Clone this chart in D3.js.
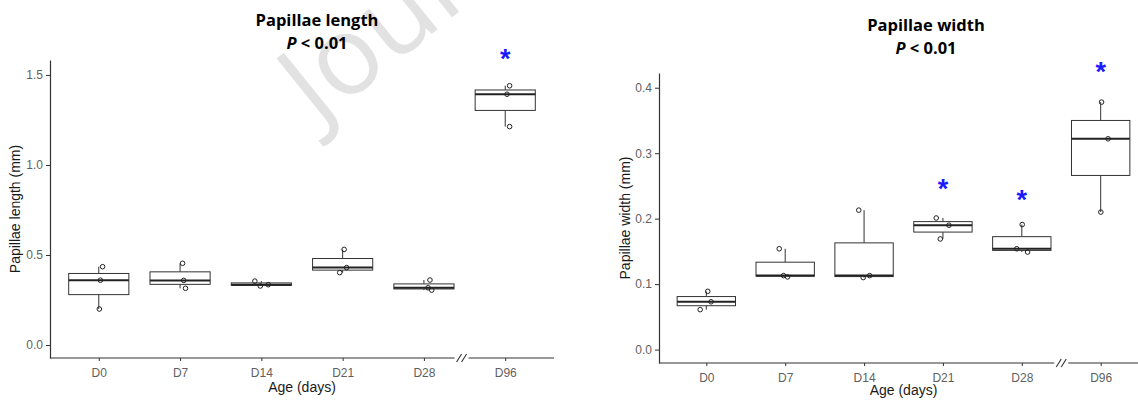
<!DOCTYPE html>
<html>
<head>
<meta charset="utf-8">
<script src="https://cdn.jsdelivr.net/npm/d3@7"></script>
<style>
  body { margin: 0; background: #fff; }
  svg { display: block; }
</style>
</head>
<body>
<div id="chart"></div>
<script>
// Age groups on the x axis
var categories = ["D0", "D7", "D14", "D21", "D28", "D96"];

// Papillae length (mm), three animals per age
var lengthPoints = [
    [0.435, 0.36, 0.2],
    [0.454, 0.359, 0.315],
    [0.355, 0.328, 0.335],
    [0.531, 0.43, 0.402],
    [0.361, 0.318, 0.305],
    [1.44, 1.393, 1.213]
];
// horizontal jitter of each point, as a share of the category step
var lengthJitter = [
    [0.047, 0.02, 0.007],
    [0.031, 0.045, 0.067],
    [-0.08, -0.013, 0.085],
    [0.018, 0.049, -0.036],
    [0.074, 0.051, 0.096],
    [0.054, 0.022, 0.054]
];
var lengthStars = [null, null, null, null, null, 1.628];
var lengthTicks = [0, 0.5, 1.0, 1.5];

// Papillae width (mm)
var widthPoints = [
    [0.089, 0.073, 0.061],
    [0.154, 0.113, 0.111],
    [0.213, 0.113, 0.11],
    [0.201, 0.19, 0.169],
    [0.191, 0.154, 0.149],
    [0.378, 0.322, 0.21]
];
var widthJitter = [
    [0.018, 0.06, -0.078],
    [-0.076, -0.021, 0.03],
    [-0.067, 0.071, -0.011],
    [-0.085, 0.076, -0.034],
    [0.005, -0.064, 0.073],
    [0.011, 0.094, 0.002]
];
var widthStars = [null, null, null, 0.256, 0.239, 0.435];
var widthTicks = [0, 0.1, 0.2, 0.3, 0.4];

var width = 1138,
    height = 400;

var svg = d3.select("#chart").append("svg")
    .attr("width", width)
    .attr("height", height);

// journal watermark behind everything
svg.append("text")
    .attr("transform", "translate(318,126) rotate(-39)")
    .style("font-family", "'Open Sans', sans-serif")
    .style("font-size", "110px")
    .style("fill", "#e2e2e2")
    .text("Journal Pre-proof");

function drawPanel(p) {
    var g = svg.append("g");

    var x = d3.scalePoint()
        .domain(categories)
        .range([p.left, p.right])
        .padding(0.6);
    var step = x.step();

    var y = d3.scaleLinear()
        .domain(p.yDomain)
        .range([p.bottom, p.top]);

    var boxWidth = step * 0.74;

    // y axis
    var yAxis = g.append("g")
        .attr("transform", "translate(" + p.left + ",0)")
        .call(d3.axisLeft(y).tickValues(p.ticks).tickSize(4).tickSizeOuter(0)
            .tickFormat(d3.format(".1f")));
    yAxis.select(".domain").attr("stroke", "#333").attr("stroke-width", 1.2);
    yAxis.selectAll(".tick line").attr("stroke", "#333");
    yAxis.selectAll(".tick text")
        .style("font-family", "'Liberation Sans', Arial, sans-serif")
        .style("font-size", "12px")
        .attr("fill", "#5f5f5f");

    // x axis, with a break between D28 and D96
    var xAxis = g.append("g")
        .attr("transform", "translate(0," + p.bottom + ")")
        .call(d3.axisBottom(x).tickSize(3).tickSizeOuter(0).tickPadding(7));
    xAxis.select(".domain").remove();
    xAxis.selectAll(".tick line").attr("stroke", "#333");
    xAxis.selectAll(".tick text")
        .style("font-family", "'Liberation Sans', Arial, sans-serif")
        .style("font-size", "12px")
        .attr("fill", "#5f5f5f");

    var brk = (x("D28") + x("D96")) / 2 + p.breakShift;
    g.append("line")
        .attr("x1", p.left).attr("x2", brk - 7)
        .attr("y1", p.bottom).attr("y2", p.bottom)
        .attr("stroke", "#333").attr("stroke-width", 1.2);
    g.append("line")
        .attr("x1", brk + 7).attr("x2", p.right)
        .attr("y1", p.bottom).attr("y2", p.bottom)
        .attr("stroke", "#333").attr("stroke-width", 1.2);
    [-2.5, 2.5].forEach(function(o) {
        g.append("line")
            .attr("x1", brk + o - 2.5).attr("y1", p.bottom + 4)
            .attr("x2", brk + o + 2.5).attr("y2", p.bottom - 4)
            .attr("stroke", "#333").attr("stroke-width", 1.1);
    });

    // boxes
    categories.forEach(function(c, i) {
        var vals = p.points[i].slice().sort(d3.ascending);
        var q1 = d3.quantile(vals, 0.25),
            med = d3.quantile(vals, 0.5),
            q3 = d3.quantile(vals, 0.75),
            iqr = q3 - q1;
        var hi = d3.max(vals.filter(function(v) { return v <= q3 + 1.5 * iqr; }));
        var lo = d3.min(vals.filter(function(v) { return v >= q1 - 1.5 * iqr; }));
        var cx = x(c);

        g.append("line")
            .attr("x1", cx).attr("x2", cx)
            .attr("y1", y(q3)).attr("y2", y(hi))
            .attr("stroke", "#333").attr("stroke-width", 1);
        g.append("line")
            .attr("x1", cx).attr("x2", cx)
            .attr("y1", y(q1)).attr("y2", y(lo))
            .attr("stroke", "#333").attr("stroke-width", 1);
        g.append("rect")
            .attr("x", cx - boxWidth / 2)
            .attr("y", y(q3))
            .attr("width", boxWidth)
            .attr("height", y(q1) - y(q3))
            .attr("fill", "#fff")
            .attr("stroke", "#333")
            .attr("stroke-width", 1);
        g.append("line")
            .attr("x1", cx - boxWidth / 2).attr("x2", cx + boxWidth / 2)
            .attr("y1", y(med)).attr("y2", y(med))
            .attr("stroke", "#222").attr("stroke-width", 2);

        // raw points
        p.points[i].forEach(function(v, j) {
            g.append("circle")
                .attr("cx", cx + p.jitter[i][j] * step)
                .attr("cy", y(v))
                .attr("r", 2.3)
                .attr("fill", "none")
                .attr("stroke", "#222")
                .attr("stroke-width", 1);
        });

        // significance marks
        if (p.stars[i] != null) {
            g.append("text")
                .attr("x", cx)
                .attr("y", y(p.stars[i]) + 16)
                .attr("text-anchor", "middle")
                .style("font-family", "'Liberation Sans', Arial, sans-serif")
                .style("font-weight", "bold")
                .style("font-size", "27px")
                .attr("fill", "#1a1aff")
                .text("*");
        }
    });

    // axis titles
    g.append("text")
        .attr("transform", "translate(" + p.yLabelX + "," + ((p.top + p.bottom) / 2) + ") rotate(-90)")
        .attr("text-anchor", "middle")
        .style("font-family", "'Liberation Sans', Arial, sans-serif")
        .style("font-size", "14px")
        .attr("fill", "#1a1a1a")
        .text(p.yLabel);
    g.append("text")
        .attr("x", (p.left + p.right) / 2)
        .attr("y", p.xLabelY)
        .attr("text-anchor", "middle")
        .style("font-family", "'Liberation Sans', Arial, sans-serif")
        .style("font-size", "14px")
        .attr("fill", "#1a1a1a")
        .text("Age (days)");

    // title and P value
    g.append("text")
        .attr("x", p.titleX)
        .attr("y", p.titleY)
        .attr("text-anchor", "middle")
        .style("font-family", "'Open Sans', Lato, sans-serif")
        .style("font-weight", "bold")
        .style("font-size", "16.5px")
        .attr("fill", "#000")
        .text(p.title);
    var pv = g.append("text")
        .attr("x", p.titleX)
        .attr("y", p.titleY + 22.5)
        .attr("text-anchor", "middle")
        .style("font-family", "'Open Sans', Lato, sans-serif")
        .style("font-weight", "bold")
        .style("font-size", "16.5px")
        .attr("fill", "#000");
    pv.append("tspan").style("font-style", "italic").text("P");
    pv.append("tspan").text(" < 0.01");
}

drawPanel({
    left: 50, right: 554, top: 60, bottom: 358,
    yDomain: [-0.072, 1.583],
    ticks: lengthTicks,
    points: lengthPoints,
    jitter: lengthJitter,
    stars: lengthStars,
    breakShift: -3,
    title: "Papillae length",
    titleX: 317, titleY: 26,
    yLabel: "Papillae length (mm)",
    yLabelX: 20,
    xLabelY: 392
});

drawPanel({
    left: 659, right: 1148, top: 73, bottom: 363,
    yDomain: [-0.0205, 0.4225],
    ticks: widthTicks,
    points: widthPoints,
    jitter: widthJitter,
    stars: widthStars,
    breakShift: 0,
    title: "Papillae width",
    titleX: 926, titleY: 31,
    yLabel: "Papillae width (mm)",
    yLabelX: 630,
    xLabelY: 395
});
</script>
</body>
</html>
